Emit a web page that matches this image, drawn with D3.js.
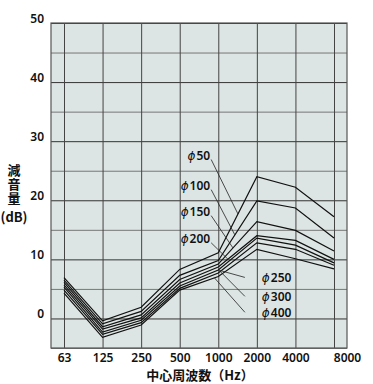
<!DOCTYPE html>
<html lang="ja">
<head>
<meta charset="utf-8">
<title>減音量</title>
<style>
  body { margin: 0; background: #fff; }
  text { font-family: "Noto Sans", "Noto Sans CJK JP", sans-serif; fill: #111; }
  .tick text { font-size: 12px; font-weight: 600; }
  .title { font-family: "Noto Sans CJK JP", sans-serif; font-weight: 700; font-size: 13px; }
  .lbl { font-size: 12px; font-weight: 600; }
  .phi { font-family: "DejaVu Sans", sans-serif; font-style: italic; font-weight: 400; font-size: 12px; }
</style>
</head>
<body>
<svg width="373" height="384"></svg>
<script src="https://cdn.jsdelivr.net/npm/d3@7/dist/d3.min.js"></script>
<script>
// center frequencies (Hz) and the dB ticks
var freqs = ["63", "125", "250", "500", "1000", "2000", "4000", "8000"];
var yTicks = [0, 10, 20, 30, 40, 50];
var yGrid = [-5, 0, 5, 10, 15, 20, 25, 30, 35, 40, 45, 50];

// noise reduction per duct diameter
var sizes = ["50", "100", "150", "200", "250", "300", "400"];
var phi50  = [6.9, -0.4, 1.9, 8.3, 11.1, 24.0, 22.2, 17.2];
var phi100 = [6.5, -0.9, 1.2, 7.3, 9.8, 19.9, 18.7, 13.6];
var phi150 = [6.1, -1.4, 0.6, 6.6, 9.2, 16.4, 14.9, 11.4];
var phi200 = [5.7, -1.8, 0.1, 6.0, 8.7, 14.0, 13.2, 10.0];
var phi250 = [5.3, -2.3, -0.3, 5.5, 8.2, 13.6, 12.4, 9.4];
var phi300 = [4.8, -2.7, -0.7, 5.1, 7.7, 12.8, 11.7, 9.0];
var phi400 = [4.3, -3.2, -1.1, 4.8, 7.1, 11.7, 10.1, 8.4];
var series = [phi50, phi100, phi150, phi200, phi250, phi300, phi400];

// label spots (x in frequency steps, y in dB) and where each leader meets its line
var labelX   = [3.79, 3.79, 3.79, 3.79, 5.13, 5.13, 5.13];
var labelDb  = [26.9, 21.8, 17.4, 12.8, 6.1, 2.9, 0.2];
var leaderAt = [4.51, 4.43, 4.38, 4.25, 4.0, 4.05, 3.9];

// y-axis title, written top to bottom
var yTitle = ["減", "音", "量"];

var svg = d3.select("svg");
var pL = 51, pR = 347, pT = 23, pB = 348;

var x = d3.scalePoint().domain(freqs).range([64, 334]);
var xi = d3.scaleLinear().domain([0, freqs.length - 1]).range([64, 334]);
var y = d3.scaleLinear().domain([-5, 50]).range([pB, pT]);

svg.append("rect")
  .attr("x", pL).attr("y", pT)
  .attr("width", pR - pL).attr("height", pB - pT)
  .attr("fill", "#dce5e3");

// grid
svg.append("g").selectAll("line").data(yGrid).enter().append("line")
  .attr("x1", pL).attr("x2", pR)
  .attr("y1", function(d) { return y(d) + 0.5; }).attr("y2", function(d) { return y(d) + 0.5; })
  .attr("stroke", function(d) { return d % 10 === 0 ? "#333" : "#777"; })
  .attr("stroke-width", 1);
svg.append("g").selectAll("line").data(freqs).enter().append("line")
  .attr("x1", function(d) { return x(d) + 0.5; }).attr("x2", function(d) { return x(d) + 0.5; })
  .attr("y1", pT).attr("y2", pB)
  .attr("stroke", "#444").attr("stroke-width", 1);

svg.append("rect")
  .attr("x", pL).attr("y", pT)
  .attr("width", pR - pL).attr("height", pB - pT)
  .attr("fill", "none").attr("stroke", "#555").attr("stroke-width", 1.2);

// axes: labels only
var xAxis = svg.append("g").attr("transform", "translate(0,351)")
  .call(d3.axisBottom(x).tickSize(0).tickPadding(0));
xAxis.select(".domain").remove();
xAxis.selectAll(".tick text")
  .attr("dy", "0.9em")
  .attr("dx", function(d, i) { return i === freqs.length - 1 ? 13 : 0; });

var yAxis = svg.append("g").attr("transform", "translate(44,0)")
  .call(d3.axisLeft(y).tickValues(yTicks).tickSize(0).tickPadding(0));
yAxis.select(".domain").remove();
yAxis.selectAll(".tick text").attr("dy", "-0.05em");

// lines
var line = d3.line()
  .x(function(d, i) { return x(freqs[i]); })
  .y(function(d) { return y(d); });

svg.append("g").selectAll("path").data(series).enter().append("path")
  .attr("d", line)
  .attr("fill", "none")
  .attr("stroke", "#111")
  .attr("stroke-width", 1.2);

// value on a series at a fractional frequency step
function at(s, t) {
  var i = Math.floor(t), f = t - i;
  return s[i] + (s[Math.min(i + 1, s.length - 1)] - s[i]) * f;
}

// labels with leaders
var lab = svg.append("g");
sizes.forEach(function(n, k) {
  var onLeft = k < 4;
  var lx = xi(labelX[k]), ly = y(labelDb[k]);
  var t = lab.append("text").attr("class", "lbl")
    .attr("x", lx).attr("y", ly)
    .attr("text-anchor", onLeft ? "end" : "start");
  t.append("tspan").attr("class", "phi").text("ϕ");
  t.append("tspan").attr("dx", 1).text(n);
  var sx = onLeft ? lx + 1 : lx - 17;
  var sy = onLeft ? ly : ly - 5;
  lab.append("line")
    .attr("x1", sx).attr("y1", sy)
    .attr("x2", xi(leaderAt[k])).attr("y2", y(at(series[k], leaderAt[k])))
    .attr("stroke", "#222").attr("stroke-width", 0.8);
});

// titles
svg.append("g").selectAll("text").data(yTitle).enter().append("text")
  .attr("class", "title")
  .attr("x", 14)
  .attr("y", function(d, i) { return 175 + i * 14; })
  .attr("text-anchor", "middle")
  .text(function(d) { return d; });
svg.append("text").attr("class", "title").attr("x", 14).attr("y", 222)
  .attr("text-anchor", "middle").text("(dB)");

svg.append("text").attr("class", "title")
  .attr("x", 200).attr("y", 380).attr("text-anchor", "middle")
  .text("中心周波数（Hz）");
</script>
</body>
</html>
